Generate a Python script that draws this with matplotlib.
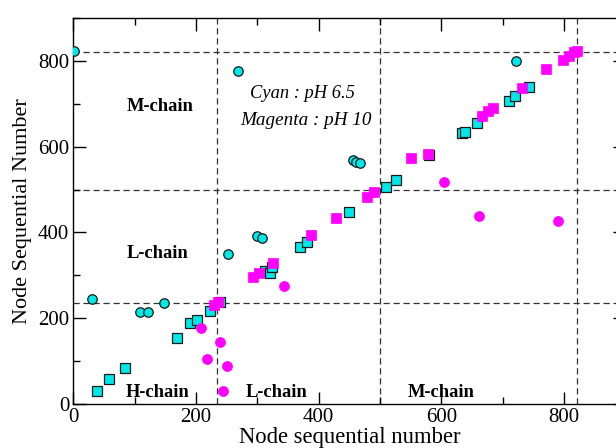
import matplotlib
matplotlib.use("Agg")
import matplotlib.pyplot as plt
from matplotlib.ticker import MultipleLocator

plt.rcParams['font.family'] = ['Liberation Serif', 'DejaVu Serif']

# pH 6.5 (cyan)
cyan_circ_x = [1, 269, 31, 108, 122, 148, 253, 300, 307, 456, 461, 467, 722]
cyan_circ_y = [822, 776, 244, 215, 215, 236, 350, 392, 387, 570, 565, 562, 800]
cyan_sq_x = [39, 59, 85, 169, 191, 201, 223, 240, 313, 321, 324, 370, 381,
             450, 510, 526, 580, 634, 639, 659, 710, 720, 743]
cyan_sq_y = [31, 58, 83, 155, 188, 197, 217, 237, 311, 306, 320, 365, 377,
             448, 506, 522, 580, 632, 635, 656, 706, 719, 738]

# pH 10 (magenta)
mag_circ_x = [208, 240, 218, 250, 244, 343, 604, 662, 790]
mag_circ_y = [178, 145, 105, 89, 30, 275, 517, 439, 427]
mag_sq_x = [229, 236, 293, 302, 325, 388, 428, 479, 491, 550, 579,
            666, 677, 685, 732, 771, 798, 808, 816, 822]
mag_sq_y = [232, 238, 297, 305, 328, 394, 433, 482, 495, 573, 584,
            671, 683, 689, 736, 780, 801, 812, 821, 822]

# chain boundaries
bounds = [235, 500, 821]

fig = plt.figure(figsize=(6.16, 4.48), dpi=100)
ax = fig.add_axes([0.119, 0.098, 0.896, 0.862])

for b in bounds:
    ax.axhline(b, color='#333333', lw=0.9, ls=(0, (5, 3)), zorder=1)
    ax.axvline(b, color='#333333', lw=0.9, ls=(0, (5, 3)), zorder=1)

ax.plot(cyan_circ_x, cyan_circ_y, 'o', ms=6.8, mfc='#00e8e8', mec='#1a1a1a', mew=0.9, zorder=3)
ax.plot(cyan_sq_x, cyan_sq_y, 's', ms=7.2, mfc='#00e8e8', mec='#1a1a1a', mew=0.9, zorder=3)
ax.plot(mag_circ_x, mag_circ_y, 'o', ms=7.2, mfc='#ff00ff', mec='#ff00ff', mew=0.5, zorder=4)
ax.plot(mag_sq_x, mag_sq_y, 's', ms=7.2, mfc='#ff00ff', mec='#ff00ff', mew=0.5, zorder=4)

bold = dict(fontsize=13.3, fontweight='bold', ha='center', va='center')
ax.text(141, 693, 'M-chain', **bold)
ax.text(137, 352, 'L-chain', **bold)
ax.text(138, 26, 'H-chain', **bold)
ax.text(331, 26, 'L-chain', **bold)
ax.text(599, 26, 'M-chain', **bold)
ax.text(373, 725, 'Cyan : pH 6.5', fontsize=13.3, style='italic', ha='center', va='center')
ax.text(380, 660, 'Magenta : pH 10', fontsize=13.8, style='italic', ha='center', va='center')

ax.set_xlim(0, 900)
ax.set_ylim(0, 900)
ax.xaxis.set_major_locator(MultipleLocator(200))
ax.xaxis.set_minor_locator(MultipleLocator(100))
ax.yaxis.set_major_locator(MultipleLocator(200))
ax.yaxis.set_minor_locator(MultipleLocator(100))
ax.tick_params(which='both', direction='in', top=True, right=True, width=1, labelsize=15, pad=3)
ax.tick_params(which='major', length=9)
ax.tick_params(which='minor', length=5)
for s in ax.spines.values():
    s.set_linewidth(1)

ax.set_xlabel('Node sequential number', fontsize=16.3, labelpad=0)
ax.set_ylabel('Node Sequential Number', fontsize=16, labelpad=4)

fig.savefig('out.png', dpi=100)
